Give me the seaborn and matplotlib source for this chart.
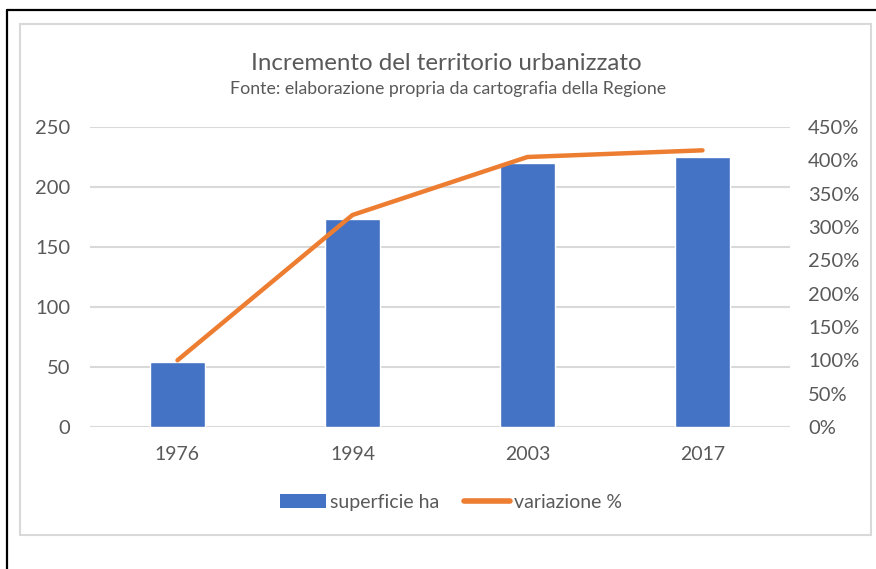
import numpy as np
import pandas as pd
import seaborn as sns
import matplotlib.pyplot as plt
from matplotlib.patches import Patch, Rectangle
from matplotlib.lines import Line2D
from matplotlib.ticker import FuncFormatter

YEARS = ['1976', '1994', '2003', '2017']
SUPERFICIE_HA = [54, 173, 220, 225]
VARIAZIONE_PCT = [100, 318, 405, 415]

TITLE = 'Incremento del territorio urbanizzato'
SUBTITLE = 'Fonte: elaborazione propria da cartografia della Regione'

BLUE = '#4472C4'
ORANGE = '#ED7D31'
TEXT = '#595959'
GRID = '#D9D9D9'

sns.set_theme(style='white')
plt.rcParams['font.family'] = ['Lato', 'DejaVu Sans']

df = pd.DataFrame({'anno': YEARS, 'superficie': SUPERFICIE_HA, 'variazione': VARIAZIONE_PCT})

fig = plt.figure(figsize=(8.76, 5.69), dpi=100)
ax = fig.add_axes([0.1027, 0.2496, 0.7991, 0.5272])

sns.barplot(data=df, x='anno', y='superficie', color=BLUE, width=0.31,
            saturation=1, ax=ax, zorder=2)
ax.set_ylim(0, 250)
ax.set_yticks(range(0, 251, 50))
ax.set_xlim(-0.5, 3.5)
ax.yaxis.grid(True, color=GRID, linewidth=1.5, zorder=0)
ax.set_axisbelow(True)
ax.set_xlabel('')
ax.set_ylabel('')
for s in ax.spines.values():
    s.set_visible(False)
ax.tick_params(axis='y', colors=TEXT, labelsize=14.5, length=0, pad=14)
ax.tick_params(axis='x', colors=TEXT, labelsize=14, length=0, pad=14)

ax2 = ax.twinx()
sns.pointplot(data=df, x='anno', y='variazione', color=ORANGE, markers='',
              linewidth=3.2, ax=ax2)
ax2.lines[0].set_solid_capstyle('round')
ax2.lines[0].set_solid_joinstyle('round')
ax2.set_ylim(0, 450)
ax2.set_yticks(range(0, 451, 50))
ax2.yaxis.set_major_formatter(FuncFormatter(lambda v, p: '{:.0f}%'.format(v)))
ax2.set_xlim(-0.5, 3.5)
ax2.set_ylabel('')
ax2.grid(False)
for s in ax2.spines.values():
    s.set_visible(False)
ax2.tick_params(axis='y', colors=TEXT, labelsize=14.5, length=0, pad=13)

fig.text(0.51, 0.888, TITLE, ha='center', va='center', fontsize=17.4, color=TEXT)
fig.text(0.511, 0.8443, SUBTITLE, ha='center', va='center', fontsize=12.8, color=TEXT)

handles = [Patch(facecolor=BLUE, edgecolor='none', label='superficie ha'),
           Line2D([0], [0], color=ORANGE, linewidth=4, label='variazione %')]
fig.legend(handles=handles, loc='center', bbox_to_anchor=(0.515, 0.117), ncol=2,
           frameon=False, fontsize=14, labelcolor=TEXT, handlelength=2.37,
           handletextpad=0.2, columnspacing=1.3)

# chart area border and outer frame
fig.add_artist(Rectangle((0.0228, 0.0598), 0.9715, 0.898, transform=fig.transFigure,
                         fill=False, edgecolor=GRID, linewidth=1.5))
fig.add_artist(Line2D([0.008, 1.0], [0.9833, 0.9833], transform=fig.transFigure,
                      color='black', linewidth=1.6))
fig.add_artist(Line2D([0.008, 0.008], [0.0, 0.9833], transform=fig.transFigure,
                      color='black', linewidth=1.6))

fig.savefig('out.png', dpi=100)
